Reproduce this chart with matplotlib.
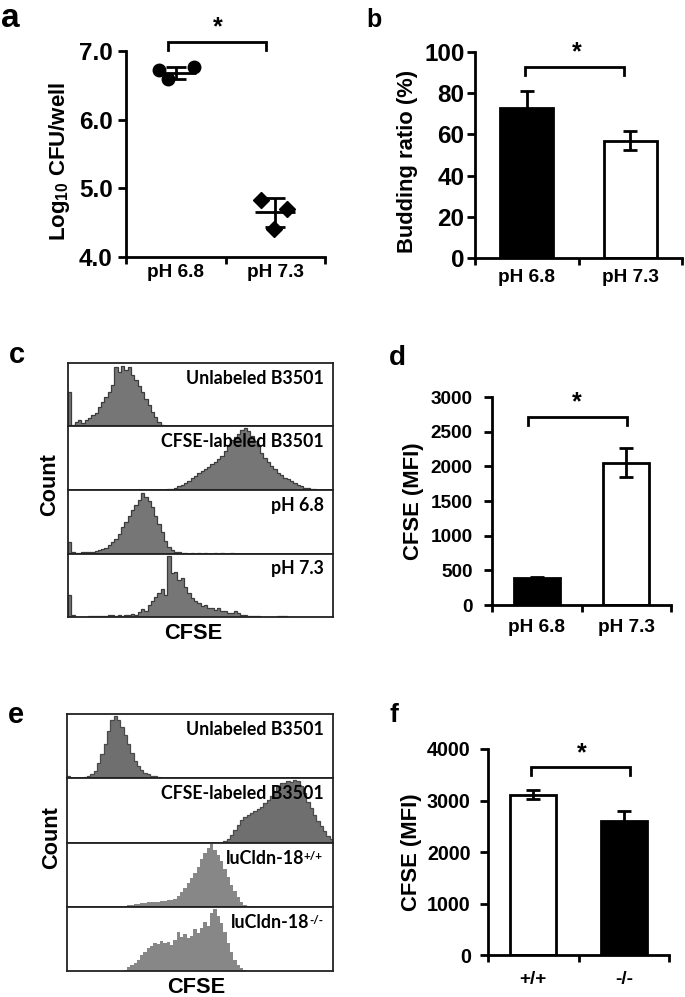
import numpy as np
import matplotlib
matplotlib.use("Agg")
import matplotlib.pyplot as plt
from matplotlib import font_manager

plt.rcParams['font.family'] = ['Liberation Sans', 'DejaVu Sans']
plt.rcParams['font.weight'] = 'bold'
plt.rcParams['mathtext.fontset'] = 'custom'
plt.rcParams['mathtext.rm'] = 'Liberation Sans:bold'
plt.rcParams['mathtext.it'] = 'Liberation Sans:bold'
plt.rcParams['mathtext.bf'] = 'Liberation Sans:bold'

# ---------------- data ----------------
ph_labels = ["pH 6.8", "pH 7.3"]
geno_labels = ["+/+", "-/-"]

# panel a: log10 CFU/well, individual wells
a_ph68 = [6.72, 6.59, 6.77]
a_ph73 = [4.83, 4.70, 4.41]
a_mean = [6.68, 4.65]
a_sd = [0.09, 0.21]

# panel b: budding ratio (%)
b_mean = [73, 57]
b_err = [8, 4.5]

# panel d: CFSE MFI
d_mean = [385, 2055]
d_err = [15, 215]

# panel f: CFSE MFI
f_mean = [3110, 2610]
f_err = [90, 185]

# panel c histograms (normalised counts, 80 bins across CFSE axis)
c_unlabeled = [0.55, 0.03, 0.08, 0.10, 0.06, 0.10, 0.14, 0.18, 0.22, 0.32,
               0.40, 0.48, 0.56, 0.66, 0.95, 0.88, 0.97, 0.90, 0.96, 0.82,
               0.74, 0.65, 0.55, 0.44, 0.34, 0.24, 0.15, 0.08, 0.03, 0.0,
               0.0, 0.0, 0.0, 0.0, 0.0, 0.0, 0.0, 0.0, 0.0, 0.0,
               0.0, 0.0, 0.0, 0.0, 0.0, 0.0, 0.0, 0.0, 0.0, 0.0,
               0.0, 0.0, 0.0, 0.0, 0.0, 0.0, 0.0, 0.0, 0.0, 0.0,
               0.0, 0.0, 0.0, 0.0, 0.0, 0.0, 0.0, 0.0, 0.0, 0.0,
               0.0, 0.0, 0.0, 0.0, 0.0, 0.0, 0.0, 0.0, 0.0, 0.0]
c_labeled = [0.0, 0.0, 0.0, 0.0, 0.0, 0.0, 0.0, 0.0, 0.0, 0.0,
             0.0, 0.0, 0.0, 0.0, 0.0, 0.0, 0.0, 0.0, 0.0, 0.0,
             0.0, 0.0, 0.0, 0.0, 0.0, 0.0, 0.0, 0.0, 0.0, 0.0,
             0.01, 0.02, 0.04, 0.06, 0.08, 0.11, 0.15, 0.19, 0.23, 0.27,
             0.31, 0.34, 0.37, 0.41, 0.45, 0.50, 0.55, 0.63, 0.73, 0.80,
             0.85, 0.90, 0.96, 1.00, 0.94, 0.86, 0.78, 0.70, 0.60, 0.52,
             0.45, 0.39, 0.33, 0.28, 0.24, 0.20, 0.17, 0.14, 0.11, 0.08,
             0.06, 0.04, 0.03, 0.02, 0.01, 0.0, 0.0, 0.0, 0.0, 0.0]
c_ph68 = [0.18, 0.02, 0.01, 0.01, 0.02, 0.02, 0.03, 0.03, 0.04, 0.05,
          0.07, 0.09, 0.13, 0.18, 0.24, 0.32, 0.42, 0.50, 0.60, 0.70,
          0.78, 0.86, 0.97, 0.90, 0.84, 0.74, 0.60, 0.48, 0.34, 0.20,
          0.10, 0.05, 0.03, 0.02, 0.01, 0.01, 0.0, 0.01, 0.0, 0.01,
          0.0, 0.01, 0.0, 0.0, 0.01, 0.0, 0.01, 0.0, 0.0, 0.01,
          0.0, 0.0, 0.0, 0.0, 0.0, 0.0, 0.0, 0.0, 0.0, 0.0,
          0.0, 0.0, 0.0, 0.0, 0.0, 0.0, 0.0, 0.0, 0.0, 0.0,
          0.0, 0.0, 0.0, 0.0, 0.0, 0.0, 0.0, 0.0, 0.0, 0.0]
c_ph73 = [0.36, 0.04, 0.0, 0.0, 0.0, 0.0, 0.01, 0.02, 0.01, 0.02,
          0.01, 0.02, 0.03, 0.04, 0.02, 0.03, 0.02, 0.04, 0.03, 0.05,
          0.04, 0.08, 0.13, 0.10, 0.20, 0.26, 0.32, 0.38, 0.45, 0.36,
          0.98, 0.70, 0.72, 0.60, 0.62, 0.48, 0.38, 0.30, 0.26, 0.22,
          0.18, 0.20, 0.15, 0.14, 0.12, 0.14, 0.10, 0.09, 0.07, 0.06,
          0.10, 0.06, 0.04, 0.03, 0.02, 0.02, 0.01, 0.01, 0.0, 0.0,
          0.0, 0.0, 0.0, 0.02, 0.01, 0.02, 0.0, 0.0, 0.0, 0.0,
          0.0, 0.0, 0.0, 0.0, 0.0, 0.0, 0.0, 0.0, 0.0, 0.0]
c_names = [("Unlabeled B3501", ""), ("CFSE-labeled B3501", ""), ("pH 6.8", ""), ("pH 7.3", "")]

# panel e histograms
e_unlabeled = [0.04, 0.01, 0.0, 0.01, 0.01, 0.02, 0.03, 0.06, 0.12, 0.24,
               0.38, 0.55, 0.75, 0.92, 0.99, 0.93, 0.82, 0.68, 0.54, 0.40,
               0.28, 0.19, 0.13, 0.09, 0.06, 0.04, 0.03, 0.02, 0.01, 0.0,
               0.0, 0.0, 0.0, 0.0, 0.0, 0.0, 0.0, 0.0, 0.0, 0.0,
               0.0, 0.0, 0.0, 0.0, 0.0, 0.0, 0.0, 0.0, 0.0, 0.0,
               0.0, 0.0, 0.0, 0.0, 0.0, 0.0, 0.0, 0.0, 0.0, 0.0,
               0.0, 0.0, 0.0, 0.0, 0.0, 0.0, 0.0, 0.0, 0.0, 0.0,
               0.0, 0.0, 0.0, 0.0, 0.0, 0.0, 0.0, 0.0, 0.0, 0.0]
e_labeled = [0.0, 0.0, 0.0, 0.0, 0.0, 0.0, 0.0, 0.0, 0.0, 0.0,
             0.0, 0.0, 0.0, 0.0, 0.0, 0.0, 0.0, 0.0, 0.0, 0.0,
             0.0, 0.0, 0.0, 0.0, 0.0, 0.0, 0.0, 0.0, 0.0, 0.0,
             0.0, 0.0, 0.0, 0.0, 0.0, 0.0, 0.0, 0.0, 0.0, 0.0,
             0.0, 0.0, 0.0, 0.0, 0.0, 0.0, 0.0, 0.02, 0.06, 0.12,
             0.20, 0.28, 0.36, 0.41, 0.44, 0.47, 0.50, 0.53, 0.57, 0.62,
             0.68, 0.74, 0.82, 0.90, 0.95, 0.94, 0.97, 0.96, 0.99, 0.97,
             0.90, 0.78, 0.65, 0.55, 0.44, 0.34, 0.26, 0.18, 0.10, 0.06]
e_wt = [0.0, 0.0, 0.0, 0.0, 0.0, 0.0, 0.0, 0.0, 0.0, 0.0,
        0.0, 0.0, 0.0, 0.0, 0.0, 0.0, 0.0, 0.01, 0.02, 0.03,
        0.04, 0.05, 0.06, 0.06, 0.07, 0.07, 0.08, 0.08, 0.09, 0.09,
        0.10, 0.11, 0.13, 0.17, 0.23, 0.30, 0.38, 0.46, 0.54, 0.63,
        0.76, 0.86, 0.94, 0.99, 0.90, 0.82, 0.72, 0.60, 0.47, 0.35,
        0.25, 0.16, 0.08, 0.03, 0.01, 0.0, 0.0, 0.0, 0.0, 0.0,
        0.0, 0.0, 0.0, 0.0, 0.0, 0.0, 0.0, 0.0, 0.0, 0.0,
        0.0, 0.0, 0.0, 0.0, 0.0, 0.0, 0.0, 0.0, 0.0, 0.0]
e_ko = [0.0, 0.0, 0.0, 0.0, 0.0, 0.0, 0.0, 0.0, 0.0, 0.0,
        0.0, 0.0, 0.0, 0.0, 0.0, 0.0, 0.0, 0.02, 0.06, 0.09,
        0.13, 0.18, 0.25, 0.30, 0.36, 0.40, 0.44, 0.43, 0.47, 0.44,
        0.46, 0.42, 0.50, 0.62, 0.54, 0.58, 0.52, 0.56, 0.66, 0.60,
        0.68, 0.78, 0.72, 0.92, 0.99, 0.88, 0.76, 0.62, 0.45, 0.30,
        0.18, 0.10, 0.05, 0.02, 0.0, 0.0, 0.0, 0.0, 0.0, 0.0,
        0.0, 0.0, 0.0, 0.0, 0.0, 0.0, 0.0, 0.0, 0.0, 0.0,
        0.0, 0.0, 0.0, 0.0, 0.0, 0.0, 0.0, 0.0, 0.0, 0.0]
e_names = [("Unlabeled B3501", ""), ("CFSE-labeled B3501", ""),
           ("luCldn-18", "+/+"), ("luCldn-18", "-/-")]

# ---------------- figure ----------------
W, H = 685, 997
fig = plt.figure(figsize=(W / 100, H / 100), dpi=100)
renderer = fig.canvas.get_renderer()


def rect(x0, x1, y0, y1):
    """pixel box -> figure fraction rect"""
    return [x0 / W, 1 - y1 / H, (x1 - x0) / W, (y1 - y0) / H]


def ftext(x, y, s, **kw):
    return fig.text(x / W, 1 - y / H, s, **kw)


LW = 2.0


def style_axes(ax, ylim, yticks, fmt, cats, yfs, xfs, ypad, xpad):
    ax.set_xlim(0.5, 2.5)
    ax.set_ylim(*ylim)
    for s in ["top", "right"]:
        ax.spines[s].set_visible(False)
    for s in ["left", "bottom"]:
        ax.spines[s].set_linewidth(LW)
    ax.set_yticks(yticks)
    ax.set_yticklabels([fmt.format(v) for v in yticks], fontsize=yfs, fontweight='bold')
    ax.set_xticks([0.5, 1.5, 2.5])
    ax.set_xticklabels([])
    ax.set_xticks([1, 2], minor=True)
    ax.set_xticklabels(cats, minor=True, fontsize=xfs, fontweight='bold')
    ax.tick_params(axis='y', direction='out', length=6, width=LW, pad=ypad)
    ax.tick_params(axis='x', which='major', direction='out', length=5, width=LW)
    ax.tick_params(axis='x', which='minor', length=0, pad=xpad)


def bracket(ax, x0, x1, ytop, ybot, xs, ys):
    ax.plot([x0, x0, x1, x1], [ybot, ytop, ytop, ybot], color='black', lw=LW,
            clip_on=False, solid_joinstyle='miter')
    ax.text(xs, ys, '*', ha='center', va='center', fontsize=18, fontweight='bold',
            clip_on=False)


# ---- panel a ----
ax = fig.add_axes(rect(126, 325, 51, 257))
style_axes(ax, (4.0, 7.0), [4.0, 5.0, 6.0, 7.0], "{:.1f}", ph_labels, 17.5, 13.7, 3.5, 5.3)
jit_a = [-0.17, -0.08, 0.18]
jit_b = [-0.14, 0.12, -0.01]
ax.plot([1 + j for j in jit_a], a_ph68, 'o', color='black', ms=9, clip_on=False, zorder=3)
ax.plot([2 + j for j in jit_b], a_ph73, 'D', color='black', ms=8.5, clip_on=False, zorder=3)
for i, (m, s) in enumerate(zip(a_mean, a_sd)):
    ax.hlines(m, i + 1 - 0.2, i + 1 + 0.2, color='black', lw=LW, zorder=4)
    ax.errorbar(i + 1, m, yerr=s, color='black', lw=LW, capsize=7, capthick=LW, zorder=4)
bracket(ax, 0.92, 1.91, 7.13, 7.01, 1.42, 7.34)
ax.set_ylim(4.0, 7.0)
ftext(60, 161, r"Log$_{10}$ CFU/well", rotation=90, ha='center', va='center', fontsize=16, fontweight='bold')
ftext(1, 27, "a", fontsize=24, fontweight='bold', ha='left', va='baseline')


# ---- bar panels ----
def bar_panel(box, means, errs, colors, ylim, yticks, cats, ylabel, lab_xy, br,
              lab_letter, let_xy, let_fs, yfs, ypad, xpad):
    ax = fig.add_axes(rect(*box))
    style_axes(ax, ylim, yticks, "{:d}", cats, yfs, 13.7, ypad, xpad)
    ax.bar([1, 2], means, width=0.51, color=colors, edgecolor='black', linewidth=LW, zorder=2)
    for i in range(2):
        ax.errorbar(i + 1, means[i], yerr=errs[i], color='black', lw=LW, capsize=5,
                    capthick=LW, zorder=3)
    bracket(ax, *br)
    ax.set_ylim(*ylim)
    ftext(lab_xy[0], lab_xy[1], ylabel, rotation=90, ha='center', va='center',
          fontsize=15.8, fontweight='bold')
    ftext(let_xy[0], let_xy[1], lab_letter, fontsize=let_fs, fontweight='bold', ha='left', va='baseline')
    return ax


bar_panel((475, 682, 52, 258), b_mean, b_err, ['black', 'white'], (0, 100),
          [0, 20, 40, 60, 80, 100], ph_labels, "Budding ratio (%)", (407, 161),
          (0.98, 1.94, 92.7, 88.8, 1.48, 99.8), "b", (366, 27), 18, 17.5, 1.5, 8.2)
bar_panel((492, 671, 397, 605), d_mean, d_err, ['black', 'white'], (0, 3000),
          [0, 500, 1000, 1500, 2000, 2500, 3000], ph_labels, "CFSE (MFI)", (414, 501),
          (0.90, 2.01, 2711, 2596, 1.45, 2920), "d", (389, 365), 20, 13.7, 8, 10.4)
bar_panel((488, 669, 749, 955), f_mean, f_err, ['white', 'black'], (0, 4000),
          [0, 1000, 2000, 3000, 4000], geno_labels, "CFSE (MFI)", (412, 852),
          (0.975, 2.07, 3650, 3495, 1.54, 3925), "f", (389, 722), 19, 14.2, 6.5, 11.8)


# ---- histogram label font: a bold humanist sans if one is installed ----
def has_bold(name):
    for f in font_manager.fontManager.ttflist:
        if f.name == name:
            w = f.weight
            if isinstance(w, str):
                w = font_manager.weight_dict.get(w, 400)
            if w >= 600:
                return True
    return False


HNAME = 'Liberation Sans'
for cand in ['Lato', 'Open Sans', 'Noto Sans']:
    if has_bold(cand):
        HNAME = cand
        break
HFAM = [HNAME, 'DejaVu Sans']
probe = fig.text(0, 0, "Unlabeled B3501", fontsize=12, fontweight='bold', family=HFAM)
pw = probe.get_window_extent(renderer).width
probe.remove()
HFS = 12 * 137.0 / pw


# ---- histogram panels ----
def hist_stack(box, series, names, fills, outlines, letter, let_xy, count_xy, cfse_xy):
    x0, x1, y0, y1 = box
    h = (y1 - y0) / 4
    for k, (vals, (name, sup)) in enumerate(zip(series, names)):
        ax = fig.add_axes(rect(x0, x1, y0 + k * h, y0 + (k + 1) * h))
        edges = np.linspace(0, 1, len(vals) + 1)
        ax.stairs(vals, edges, fill=True, color=fills[k], zorder=1)
        if outlines[k]:
            ax.stairs(vals, edges, color=outlines[k], lw=0.9, zorder=2)
        ax.set_xlim(0, 1)
        ax.set_ylim(0, 1.02)
        ax.set_xticks([])
        ax.set_yticks([])
        for s in ax.spines.values():
            s.set_linewidth(1.3)
            s.set_color('#222222')
        xr = 0.966
        if sup:
            xr = 0.962
            st = ax.text(xr, 0.725, sup, transform=ax.transAxes, ha='right', va='baseline',
                         fontsize=HFS * 0.66, fontweight='bold', family=HFAM, color='black')
            sw = st.get_window_extent(renderer).width / ax.get_window_extent(renderer).width
            xr = xr - sw + 0.002
        ax.text(xr, 0.67, name, transform=ax.transAxes, ha='right', va='baseline',
                fontsize=HFS, fontweight='bold', family=HFAM, color='black')
    ftext(count_xy[0], count_xy[1], "Count", rotation=90, ha='center', va='center',
          fontsize=15.7, fontweight='bold')
    ftext(cfse_xy[0], cfse_xy[1], "CFSE", ha='center', va='center', fontsize=15.7, fontweight='bold')
    ftext(let_xy[0], let_xy[1], letter, fontsize=21, fontweight='bold', ha='left', va='baseline')


hist_stack((68, 333, 363, 617), [c_unlabeled, c_labeled, c_ph68, c_ph73], c_names,
           ['#767676'] * 4, ['#3c3c3c'] * 4, "c", (9, 363), (50, 485), (193, 633))
hist_stack((67, 333, 714, 971), [e_unlabeled, e_labeled, e_wt, e_ko], e_names,
           ['#6f6f6f', '#6f6f6f', '#878787', '#878787'], ['#4a4a4a', '#4a4a4a', None, None],
           "e", (8, 723), (52, 838), (196, 987))

fig.savefig("out.png", dpi=100)
